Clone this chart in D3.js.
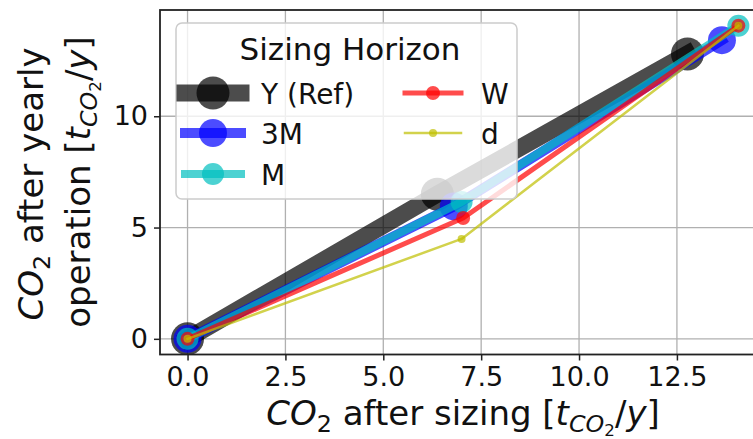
<!DOCTYPE html>
<html>
<head>
<meta charset="utf-8">
<script src="https://cdn.jsdelivr.net/npm/d3@7"></script>
<style>
  html, body { margin: 0; padding: 0; background: #fff; }
  svg { display: block; font-family: "DejaVu Sans", sans-serif; }
</style>
</head>
<body>
<svg id="chart" width="753" height="439"></svg>
<script>
// ---------------- data ----------------
const seriesNames = ["Y (Ref)", "3M", "M", "W", "d"];
const xYRef = [0, 6.38, 12.77];
const yYRef = [0, 6.50, 12.80];
const x3M   = [0, 6.80, 13.65];
const y3M   = [0, 5.95, 13.42];
const xM    = [0, 7.00, 14.07];
const yM    = [0, 6.15, 14.07];
const xW    = [0, 7.04, 14.07];
const yW    = [0, 5.43, 14.07];
const xD    = [0, 7.00, 14.07];
const yD    = [0, 4.49, 14.07];
const xTicks = [0, 2.5, 5, 7.5, 10, 12.5];
const yTicks = [0, 5, 10];
const legendTitle = "Sizing Horizon";

// ---------------- styles ----------------
const seriesColors = ["#000000", "#0000ff", "#00bfbf", "#ff0000", "#bfbf00"];
const lineWidths   = [17, 10, 8, 5, 2.5];
const markerRadii  = [16.5, 14, 11, 7, 4];
const alpha = 0.7;

const seriesX = [xYRef, x3M, xM, xW, xD];
const seriesY = [yYRef, y3M, yM, yW, yD];
const series = seriesNames.map((name, i) => ({
  name, color: seriesColors[i], lw: lineWidths[i], r: markerRadii[i],
  pts: seriesX[i].map((xv, j) => [xv, seriesY[i][j]])
}));

// ---------------- layout ----------------
const svg = d3.select("#chart");
const allX = seriesX.flat(), allY = seriesY.flat();
const xmin = d3.min(allX), xmax = d3.max(allX);
const ymin = d3.min(allY), ymax = d3.max(allY);
const mx = 0.05 * (xmax - xmin), my = 0.05 * (ymax - ymin);
const pLeft = 160, pTop = 10, pBottom = 354.5;
const pxPerX = 39.15;
const pRight = pLeft + (xmax - xmin + 2 * mx) * pxPerX;

const x = d3.scaleLinear().domain([xmin - mx, xmax + mx]).range([pLeft, pRight]);
const y = d3.scaleLinear().domain([ymin - my, ymax + my]).range([pBottom, pTop]);

// clip
svg.append("defs").append("clipPath").attr("id", "clip")
  .append("rect").attr("x", pLeft).attr("y", pTop)
  .attr("width", pRight - pLeft).attr("height", pBottom - pTop);

// grid
const grid = svg.append("g");
grid.selectAll(".gx").data(xTicks).join("line")
  .attr("x1", d => x(d)).attr("x2", d => x(d))
  .attr("y1", pTop).attr("y2", pBottom)
  .attr("stroke", "#b0b0b0").attr("stroke-width", 1.3);
grid.selectAll(".gy").data(yTicks).join("line")
  .attr("x1", pLeft).attr("x2", pRight)
  .attr("y1", d => y(d)).attr("y2", d => y(d))
  .attr("stroke", "#b0b0b0").attr("stroke-width", 1.3);

// series
const plot = svg.append("g").attr("clip-path", "url(#clip)");
const lineGen = d3.line().x(d => x(d[0])).y(d => y(d[1]));
series.forEach(s => {
  const g = plot.append("g");
  g.append("path").attr("d", lineGen(s.pts))
    .attr("fill", "none").attr("stroke", s.color)
    .attr("stroke-width", s.lw).attr("stroke-opacity", alpha)
    .attr("stroke-linecap", "square").attr("stroke-linejoin", "round");
  g.selectAll("circle").data(s.pts).join("circle")
    .attr("cx", d => x(d[0])).attr("cy", d => y(d[1]))
    .attr("r", s.r).attr("fill", s.color).attr("fill-opacity", alpha);
});

// axes
const tickFont = 27;
const xAxis = svg.append("g").attr("transform", `translate(0,${pBottom})`)
  .call(d3.axisBottom(x).tickValues(xTicks).tickFormat(d3.format(".1f"))
    .tickSize(6).tickPadding(6));
const yAxis = svg.append("g").attr("transform", `translate(${pLeft},0)`)
  .call(d3.axisLeft(y).tickValues(yTicks).tickFormat(d3.format("d"))
    .tickSize(6).tickPadding(6));
[xAxis, yAxis].forEach(a => {
  a.select(".domain").remove();
  a.selectAll(".tick line").attr("stroke", "#222").attr("stroke-width", 1.5);
  a.selectAll(".tick text").attr("font-size", tickFont)
    .attr("font-family", "DejaVu Sans").attr("fill", "#111");
});

// spines
svg.append("rect").attr("x", pLeft).attr("y", pTop)
  .attr("width", pRight - pLeft).attr("height", pBottom - pTop)
  .attr("fill", "none").attr("stroke", "#222").attr("stroke-width", 1.8);

// axis labels (math-like)
const labFont = 34;
function mathLabel(t, parts) {
  parts.forEach(p => {
    const ts = t.append("tspan").text(p.t);
    if (p.it) ts.attr("font-style", "italic");
    if (p.fs) ts.attr("font-size", p.fs * labFont);
    if (p.dy) ts.attr("dy", p.dy);
  });
}
const xl = svg.append("text").attr("x", 463).attr("y", 425)
  .attr("text-anchor", "middle").attr("font-size", labFont).attr("fill", "#111");
mathLabel(xl, [
  {t: "CO", it: true},
  {t: "2", fs: 0.7, dy: 7},
  {t: " after sizing [", dy: -7},
  {t: "t", it: true},
  {t: "CO", it: true, fs: 0.7, dy: 7},
  {t: "2", fs: 0.49, dy: 4},
  {t: "/", dy: -11},
  {t: "y", it: true},
  {t: "]"}
]);

const yl1 = svg.append("text").attr("transform", "translate(43,184) rotate(-90)")
  .attr("text-anchor", "middle").attr("font-size", labFont).attr("fill", "#111");
mathLabel(yl1, [
  {t: "CO", it: true},
  {t: "2", fs: 0.7, dy: 7},
  {t: " after yearly", dy: -7}
]);
const yl2 = svg.append("text").attr("transform", "translate(90,182) rotate(-90)")
  .attr("text-anchor", "middle").attr("font-size", labFont).attr("fill", "#111");
mathLabel(yl2, [
  {t: "operation [", },
  {t: "t", it: true},
  {t: "CO", it: true, fs: 0.7, dy: 7},
  {t: "2", fs: 0.49, dy: 4},
  {t: "/", dy: -11},
  {t: "y", it: true},
  {t: "]"}
]);

// legend
const leg = svg.append("g");
leg.append("rect").attr("x", 176).attr("y", 23).attr("width", 341).attr("height", 176)
  .attr("rx", 6).attr("fill", "#fff").attr("fill-opacity", 0.8)
  .attr("stroke", "#cccccc").attr("stroke-width", 1.5);
leg.append("text").attr("x", 350).attr("y", 60).attr("text-anchor", "middle")
  .attr("font-size", 31).attr("fill", "#111").text(legendTitle);
const colX = [213, 433], labX = [261, 481], rowY = [93, 133, 174];
series.forEach((s, i) => {
  const col = i < 3 ? 0 : 1, row = i < 3 ? i : i - 3;
  const cx = colX[col], cy = rowY[row];
  leg.append("line").attr("x1", cx - 28).attr("x2", cx + 28)
    .attr("y1", cy).attr("y2", cy)
    .attr("stroke", s.color).attr("stroke-width", s.lw).attr("stroke-opacity", alpha)
    .attr("stroke-linecap", "square");
  leg.append("circle").attr("cx", cx).attr("cy", cy).attr("r", s.r)
    .attr("fill", s.color).attr("fill-opacity", alpha);
  leg.append("text").attr("x", labX[col]).attr("y", cy + 11)
    .attr("font-size", 28).attr("fill", "#111").text(s.name);
});
</script>
</body>
</html>
